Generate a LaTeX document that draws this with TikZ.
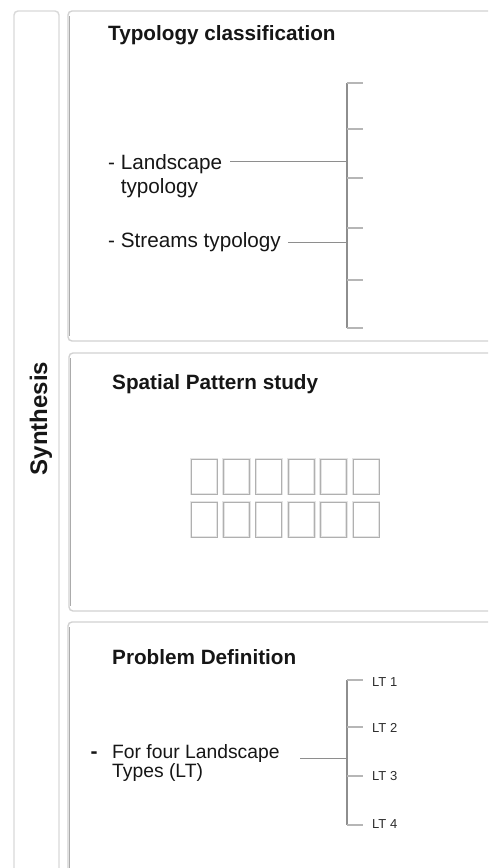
\documentclass[tikz,border=0pt]{standalone}
\usepackage{fontspec}
\setmainfont{Liberation Sans}
\definecolor{frame}{HTML}{D2D2D2}
\definecolor{frameshade}{HTML}{ABABAB}
\definecolor{wire}{HTML}{8E8E8E}
\definecolor{twigc}{HTML}{B6B6B6}
\definecolor{ink}{HTML}{161616}
\begin{document}
\begin{tikzpicture}[x=1pt,y=-1pt,
  panel/.style={draw=frame,line width=1.4pt,rounded corners=4pt},
  panelshade/.style={draw=frameshade,line width=0.7pt},
  title/.style={font=\fontsize{20.7}{24}\selectfont\bfseries,text=ink,inner sep=0pt,anchor=base west},
  body/.style={font=\fontsize{20.7}{24}\selectfont,text=ink,inner sep=0pt,anchor=base west},
  bodysmall/.style={font=\fontsize{19.3}{22}\selectfont,text=ink,inner sep=0pt,anchor=base west},
  ltlabel/.style={font=\fontsize{13}{15}\selectfont,text=ink!90,inner sep=0pt,anchor=west},
  wire/.style={draw=wire,line width=1pt},
  spine/.style={draw=wire,line width=1.3pt},
  twig/.style={draw=twigc,line width=1.3pt},
  cell/.style={draw=gray!62,line width=0.9pt,minimum width=26pt,minimum height=35pt,
    inner sep=0pt,preaction={draw=gray!20,line width=2.6pt}}
]
\useasboundingbox (0,0) rectangle (488,868);
\clip (0,0) rectangle (488,868);
\fill[white] (0,0) rectangle (488,868);

% left column with the vertical heading
\draw[panel,draw=frame!85] (14,890) -- (14,11) -- (59,11) -- (59,890);
\node[font=\fontsize{24}{28}\selectfont\bfseries,text=ink,rotate=90,anchor=base,inner sep=0pt]
  (synth) at (47,418.5) {Synthesis};

% the three stage panels
\draw[panel] (68,11) rectangle (530,341);
\draw[panelshade] (69.6,16) -- (69.6,336);
\draw[panel] (69,353) rectangle (530,611);
\draw[panelshade] (70.6,358) -- (70.6,606);
\draw[panel] (68,622) rectangle (530,900);
\draw[panelshade] (69.6,627) -- (69.6,900);

% ---- Typology classification
\node[title] (t1) at (108,40) {Typology classification};
\node[body] (land) at (108,169) {- Landscape};
\node[body] (land2) at (120.6,193) {typology};
\node[body] (stream) at (108,247) {- Streams typology};

\coordinate (s1top) at (347,83);
\coordinate (s1bot) at (347,328);
\draw[spine] (s1top) -- (s1bot);
\foreach \y [count=\i] in {83,129,178,228,280,328} {
  \coordinate (k\i) at (363,\y);
  \draw[twig] (k\i -| s1top) -- (k\i);
}
\coordinate (landout) at (230,161);
\coordinate (streamout) at (288,242);
\draw[wire] (landout) -- (landout -| s1top);
\draw[wire] (streamout) -- (streamout -| s1top);

% ---- Spatial Pattern study
\node[title] (t2) at (112,389.5) {Spatial Pattern study};
\foreach \c in {0,...,5} {
  \node[cell] (cell-1-\c) at (204+32.4*\c,476.5) {};
  \node[cell] (cell-2-\c) at (204+32.4*\c,519.5) {};
}

% ---- Problem Definition
\node[title] (t3) at (112,664) {Problem Definition};
\node[bodysmall,font=\fontsize{21}{22}\selectfont\bfseries] (dash) at (90.5,758) {-};
\node[bodysmall] (four) at (112,758) {For four Landscape};
\node[bodysmall] (four2) at (112,777.5) {Types (LT)};

\coordinate (s2top) at (347,680);
\coordinate (s2bot) at (347,825);
\draw[spine] (s2top) -- (s2bot);
\foreach \y/\ly [count=\i] in {680/682.5,727/727.5,776/776.5,825/824} {
  \coordinate (m\i) at (363,\y);
  \draw[twig] (m\i -| s2top) -- (m\i);
  \node[ltlabel] (lt\i) at (372,\ly) {LT \i};
}
\coordinate (fourout) at (300,758);
\draw[wire] (fourout) -- (fourout -| s2top);
\end{tikzpicture}
\end{document}
